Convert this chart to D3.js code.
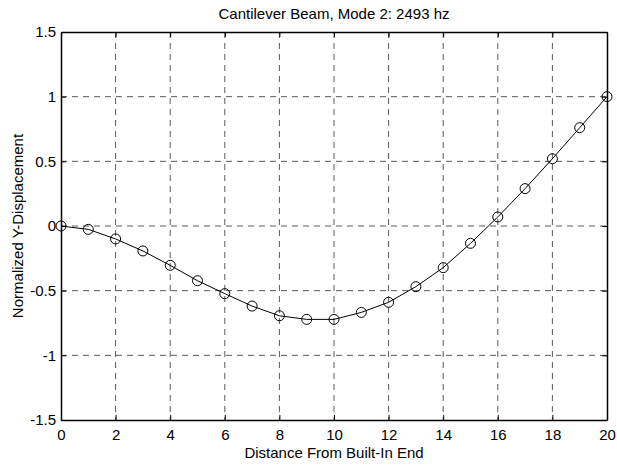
<!DOCTYPE html>
<html lang="en">
<head>
  <meta charset="UTF-8">
  <title>Cantilever Beam, Mode 2</title>
  <style>
    body { margin: 0; background: #fff; }
    svg { display: block; font-family: "Liberation Sans", Arial, sans-serif; }
    .grid line { stroke: #5a5a5a; stroke-width: 1px; stroke-dasharray: 6,5; }
    .curve { fill: none; stroke: #000; stroke-width: 1px; }
    .dot { fill: none; stroke: #000; stroke-width: 1px; }
    .tick-label { font-size: 15px; fill: #000; }
  </style>
</head>
<body>
  <script src="https://cdn.jsdelivr.net/npm/d3@7"></script>
  <script>
    const width = 617, height = 466;
    const margin = { left: 61, right: 10, top: 32, bottom: 46 };

    // data
    const distance = d3.range(0, 21);
    const displacement = [0, -0.026, -0.10, -0.193, -0.304, -0.423, -0.523, -0.619, -0.694, -0.722, -0.722,
      -0.668, -0.59, -0.469, -0.322, -0.134, 0.07, 0.289, 0.52, 0.76, 1.0];
    const xTicks = [0, 2, 4, 6, 8, 10, 12, 14, 16, 18, 20];
    const yTicks = [-1.5, -1, -0.5, 0, 0.5, 1, 1.5];
    const title = 'Cantilever Beam, Mode 2: 2493 hz';

    const x = d3.scaleLinear().domain([0, 20]).range([margin.left, width - margin.right]);
    const y = d3.scaleLinear().domain([-1.5, 1.5]).range([height - margin.bottom, margin.top]);
    const x0 = x.range()[0], x1 = x.range()[1], y0 = y.range()[0], y1 = y.range()[1];

    const svg = d3.select('body').append('svg').attr('width', width).attr('height', height);

    // grid
    const grid = svg.append('g').attr('class', 'grid');
    grid.selectAll('line.v').data(xTicks.slice(1, -1)).enter().append('line')
      .attr('class', 'v')
      .attr('x1', d => x(d)).attr('x2', d => x(d)).attr('y1', y1).attr('y2', y0);
    grid.selectAll('line.h').data(yTicks.slice(1, -1)).enter().append('line')
      .attr('class', 'h')
      .attr('x1', x0).attr('x2', x1).attr('y1', d => y(d)).attr('y2', d => y(d));

    // axes, ticks inside on all four sides
    const tickLen = 5;
    svg.append('g').attr('transform', `translate(0,${y0})`)
      .call(d3.axisBottom(x).tickValues(xTicks).tickSizeInner(-tickLen).tickSizeOuter(0).tickPadding(9).tickFormat(d3.format('d')));
    svg.append('g').attr('transform', `translate(0,${y1})`)
      .call(d3.axisTop(x).tickValues(xTicks).tickSizeInner(-tickLen).tickSizeOuter(0).tickFormat(''));
    svg.append('g').attr('transform', `translate(${x0},0)`)
      .call(d3.axisLeft(y).tickValues(yTicks).tickSizeInner(-tickLen).tickSizeOuter(0).tickPadding(5).tickFormat(d => String(d)));
    svg.append('g').attr('transform', `translate(${x1},0)`)
      .call(d3.axisRight(y).tickValues(yTicks).tickSizeInner(-tickLen).tickSizeOuter(0).tickFormat(''));

    svg.selectAll('.domain').attr('stroke', '#000').attr('stroke-width', 1.5);
    svg.selectAll('.tick line').attr('stroke', '#000');
    svg.selectAll('g[font-size]').attr('font-size', null).attr('font-family', null);
    svg.selectAll('.tick text').attr('class', 'tick-label');

    // curve and markers
    const pts = distance.map((d, i) => ({ x: d, y: displacement[i] }));
    const line = d3.line().x(d => x(d.x)).y(d => y(d.y));
    svg.append('path').datum(pts).attr('class', 'curve').attr('d', line);
    svg.selectAll('circle.dot').data(pts).enter().append('circle')
      .attr('class', 'dot')
      .attr('cx', d => x(d.x)).attr('cy', d => y(d.y)).attr('r', 5);

    // labels
    svg.append('text').attr('x', (x0 + x1) / 2).attr('y', 19)
      .attr('text-anchor', 'middle').attr('font-size', 15).text(title);
    svg.append('text').attr('x', (x0 + x1) / 2).attr('y', 458)
      .attr('text-anchor', 'middle').attr('font-size', 15).text('Distance From Built-In End');
    svg.append('text').attr('transform', `translate(23,${(y0 + y1) / 2}) rotate(-90)`)
      .attr('text-anchor', 'middle').attr('font-size', 15).text('Normalized Y-Displacement');
  </script>
</body>
</html>
